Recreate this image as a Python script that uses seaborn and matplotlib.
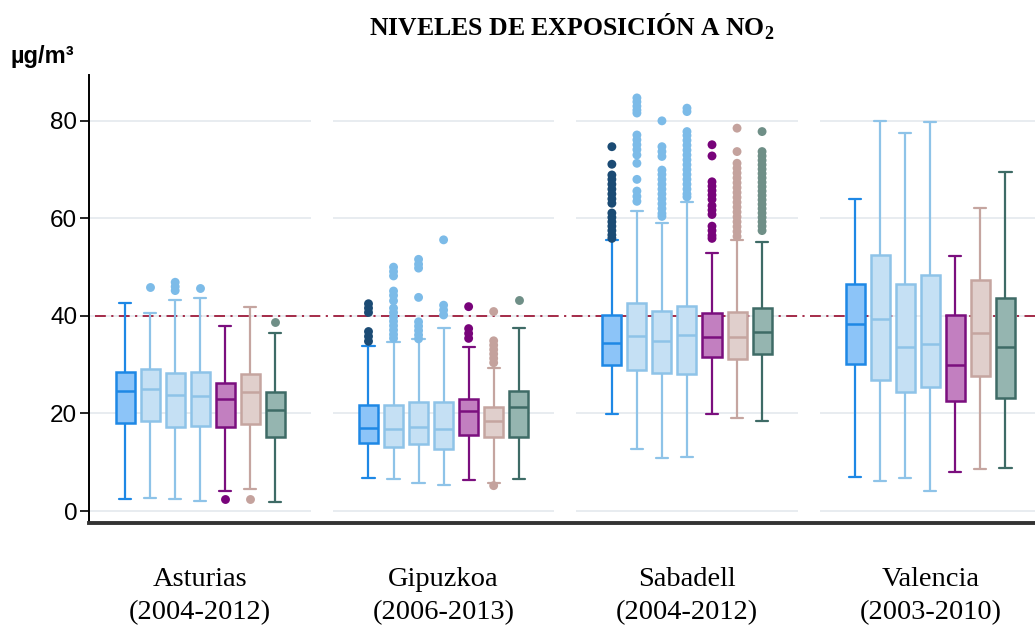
import numpy as np
import pandas as pd
import matplotlib
matplotlib.use("Agg")
import matplotlib.pyplot as plt
import seaborn as sns

# --- data -----------------------------------------------------------------
REGIONS = ["Asturias", "Gipuzkoa", "Sabadell", "Valencia"]
PERIODS = ["(2004-2012)", "(2006-2013)", "(2004-2012)", "(2003-2010)"]
GROUPS = ["G1", "G2", "G3", "G4", "G5", "G6", "G7"]

# five-number summaries (µg/m³), one row per region, one column per group
WHISKER_LOW = [
    [2.4, 2.7, 2.5, 2.1, 4.2, 4.5, 1.9],
    [6.8, 6.5, 5.8, 5.3, 6.4, 5.8, 6.5],
    [19.9, 12.7, 10.8, 11.1, 19.8, 19.1, 18.5],
    [7.0, 6.2, 6.7, 4.0, 7.9, 8.6, 8.9],
]
Q1 = [
    [18.0, 18.5, 17.2, 17.5, 17.2, 17.8, 15.2],
    [13.9, 13.2, 13.7, 12.7, 15.6, 15.2, 15.2],
    [29.9, 28.9, 28.2, 28.0, 31.5, 31.1, 32.1],
    [30.1, 26.9, 24.3, 25.4, 22.6, 27.6, 23.2],
]
MEDIAN = [
    [24.7, 25.0, 23.8, 23.5, 23.0, 24.3, 20.8],
    [17.1, 16.8, 17.3, 16.8, 20.6, 18.4, 21.3],
    [34.4, 35.8, 34.9, 36.1, 35.6, 35.6, 36.8],
    [38.4, 39.4, 33.6, 34.3, 29.9, 36.4, 33.6],
]
Q3 = [
    [28.6, 29.1, 28.3, 28.6, 26.3, 28.0, 24.3],
    [21.8, 21.7, 22.4, 22.4, 22.9, 21.3, 24.7],
    [40.2, 42.6, 41.0, 42.1, 40.7, 40.8, 41.6],
    [46.6, 52.5, 46.6, 48.4, 40.2, 47.3, 43.7],
]
WHISKER_HIGH = [
    [42.6, 40.6, 43.3, 43.6, 38.0, 41.8, 36.4],
    [33.8, 34.7, 35.2, 37.5, 33.7, 29.4, 37.5],
    [55.6, 61.5, 59.1, 63.3, 53.0, 55.6, 55.1],
    [63.9, 79.9, 77.6, 79.7, 52.2, 62.2, 69.6],
]

# outside values, per region and group
OUTLIERS_ASTURIAS = [
    [], [46.0], [46.9, 46.0, 45.2], [45.7], [2.4], [2.4], [38.8],
]
OUTLIERS_GIPUZKOA = [
    [42.5, 41.6, 40.7, 36.8, 35.8, 34.8],
    [50.0, 49.1, 48.2, 45.1, 44.2, 43.1, 41.6, 40.7, 39.8, 38.9, 38.0, 37.1, 36.2, 35.4],
    [51.6, 50.6, 49.8, 43.8, 38.8, 37.9, 37.0, 36.1, 35.3],
    [55.6, 42.2, 41.2, 40.2],
    [41.9, 37.4, 36.4, 35.4],
    [40.9, 34.9, 34.0, 33.1, 32.2, 31.3, 30.4, 5.2],
    [43.3],
]
OUTLIERS_SABADELL = [
    [74.7, 71.1, 68.9, 68.0, 67.0, 66.0, 65.0, 64.0, 63.1,
     61.1, 60.2, 59.3, 58.4, 57.5, 56.6, 55.9],
    [84.7, 83.9, 83.0, 82.2, 81.6, 77.1, 76.1, 75.1, 74.1, 73.0,
     71.3, 68.0, 65.6, 64.5, 63.5],
    [80.0, 74.7, 73.7, 72.7, 69.9, 69.0, 68.0, 67.0, 66.0, 65.0,
     64.0, 63.0, 62.0, 61.0, 60.4],
    [82.6, 81.9, 77.8, 77.0, 76.0, 75.0, 74.0, 73.0, 72.0, 71.0,
     70.0, 69.0, 68.0, 67.0, 66.0, 65.0, 64.4],
    [75.1, 72.8, 67.5, 66.6, 65.7, 64.8, 63.9, 62.6, 61.7, 60.8,
     58.4, 57.5, 56.5, 55.9],
    [78.5, 73.7, 71.3, 70.3, 69.3, 68.3, 67.3, 66.3, 65.3, 64.3,
     63.3, 62.3, 61.3, 60.3, 59.3, 58.3, 57.3, 56.3],
    [77.8, 73.7, 72.8, 71.9, 71.0, 70.1, 69.2, 68.3, 67.4, 66.5,
     65.6, 64.7, 63.8, 62.9, 62.0, 61.1, 60.2, 59.3, 58.4, 57.5],
]
OUTLIERS_VALENCIA = [[], [], [], [], [], [], []]
OUTLIERS = [OUTLIERS_ASTURIAS, OUTLIERS_GIPUZKOA, OUTLIERS_SABADELL, OUTLIERS_VALENCIA]

LIMIT_VALUE = 40
Y_TICKS = [0, 20, 40, 60, 80]

# --- styling --------------------------------------------------------------
FACE = ["#8cc4f8", "#c5e0f4", "#c5e0f4", "#c5e0f4", "#c27fc0", "#e0cfcc", "#95b5b0"]
EDGE = ["#1e88e5", "#8ec3e8", "#8ec3e8", "#8ec3e8", "#7b0f7e", "#c5a5a0", "#3e6b66"]
DOTS = ["#1b4b74", "#7cbbe8", "#7cbbe8", "#7cbbe8", "#78037a", "#c4a29d", "#6f8f87"]

DODGE_WIDTH = 0.72

sns.set_theme(style="white")
plt.rcParams["font.family"] = ["Liberation Sans", "DejaVu Sans"]
plt.rcParams["mathtext.fontset"] = "custom"
plt.rcParams["mathtext.rm"] = "Liberation Serif:bold"
plt.rcParams["mathtext.bf"] = "Liberation Serif:bold"

# long-form tables
box_rows = []
for r, region in enumerate(REGIONS):
    for g, grp in enumerate(GROUPS):
        for v in (WHISKER_LOW[r][g], Q1[r][g], MEDIAN[r][g], Q3[r][g], WHISKER_HIGH[r][g]):
            box_rows.append((region, grp, v))
box_df = pd.DataFrame(box_rows, columns=["region", "group", "value"])

out_rows = [(REGIONS[r], GROUPS[g], v)
            for r in range(len(REGIONS))
            for g in range(len(GROUPS))
            for v in OUTLIERS[r][g]]
out_df = pd.DataFrame(out_rows, columns=["region", "group", "value"])

fig = plt.figure(figsize=(10.35, 6.3), dpi=100)
ax = fig.add_axes([89 / 1035, 107 / 630, 1 - 89 / 1035, (523 - 75) / 630])

# per-panel horizontal grid
for i in range(len(REGIONS)):
    ax.hlines(Y_TICKS, i - 0.455, i + 0.455, colors="#e6ebef", lw=1.3, zorder=0)

# reference limit
ax.axhline(LIMIT_VALUE, xmin=0.006, color="#9e1b3b", lw=1.3,
           ls=(0, (6, 3, 1.2, 3)), zorder=1)

# boxes: whiskers reach the adjacent values, outside values drawn separately
sns.boxplot(data=box_df, x="region", y="value", hue="group",
            order=REGIONS, hue_order=GROUPS, palette=FACE, saturation=1,
            width=DODGE_WIDTH, gap=0.24, whis=(0, 100), linewidth=1.6,
            legend=False, ax=ax, zorder=3)

cap_half = 0.025
for k, cont in enumerate(ax.containers):
    col = EDGE[k]
    for patch in cont.boxes:
        patch.set_edgecolor(col)
        patch.set_linewidth(1.8)
    for line in list(cont.whiskers) + list(cont.caps) + list(cont.medians):
        line.set_color(col)
    for line in cont.medians:
        line.set_linewidth(1.8)
    for cap in cont.caps:
        xd = np.asarray(cap.get_xdata(), dtype=float)
        c = xd.mean()
        cap.set_xdata([c - cap_half, c + cap_half])

n_before = len(ax.collections)
sns.stripplot(data=out_df, x="region", y="value", hue="group",
              order=REGIONS, hue_order=GROUPS, palette=DOTS,
              dodge=True, jitter=False, size=6.4, linewidth=0,
              legend=False, ax=ax, zorder=4)
# align the dodged dots with the box positions
for coll in ax.collections[n_before:]:
    off = coll.get_offsets()
    if len(off) == 0:
        continue
    off = np.asarray(off, dtype=float)
    centre = np.round(off[:, 0])
    off[:, 0] = centre + (off[:, 0] - centre) * DODGE_WIDTH / 0.8
    coll.set_offsets(off)

ax.set_xlim(-0.457, 3.43)
ax.set_ylim(-2.46, 89.4)
ax.set_yticks(Y_TICKS)
ax.set_yticklabels([str(t) for t in Y_TICKS])
ax.set_xticks(range(len(REGIONS)))
ax.set_xticklabels([f"{a}\n{b}" for a, b in zip(REGIONS, PERIODS)],
                   fontfamily="Liberation Serif", fontsize=20.5, linespacing=1.42)
ax.set_xlabel("")
ax.set_ylabel("")

ax.tick_params(axis="y", left=True, length=6.5, width=1.2, color="black",
               pad=2, labelsize=17.5, labelcolor="black")
ax.tick_params(axis="x", bottom=False, pad=26, labelcolor="black")

for side in ("top", "right"):
    ax.spines[side].set_visible(False)
ax.spines["left"].set_color("black")
ax.spines["left"].set_linewidth(1.4)
ax.spines["bottom"].set_color("#333333")
ax.spines["bottom"].set_linewidth(2.8)

fig.text(0.552, 0.958, "NIVELES DE EXPOSICIÓN A NO$_2$",
         fontfamily="Liberation Serif", fontweight="bold", fontsize=18.5,
         ha="center", va="center", color="black")
fig.text(10 / 1035, 1 - 57 / 630, "µg/m³", fontfamily="Liberation Sans",
         fontweight="bold", fontsize=17, ha="left", va="center", color="black")

fig.savefig("out.png", dpi=100)
